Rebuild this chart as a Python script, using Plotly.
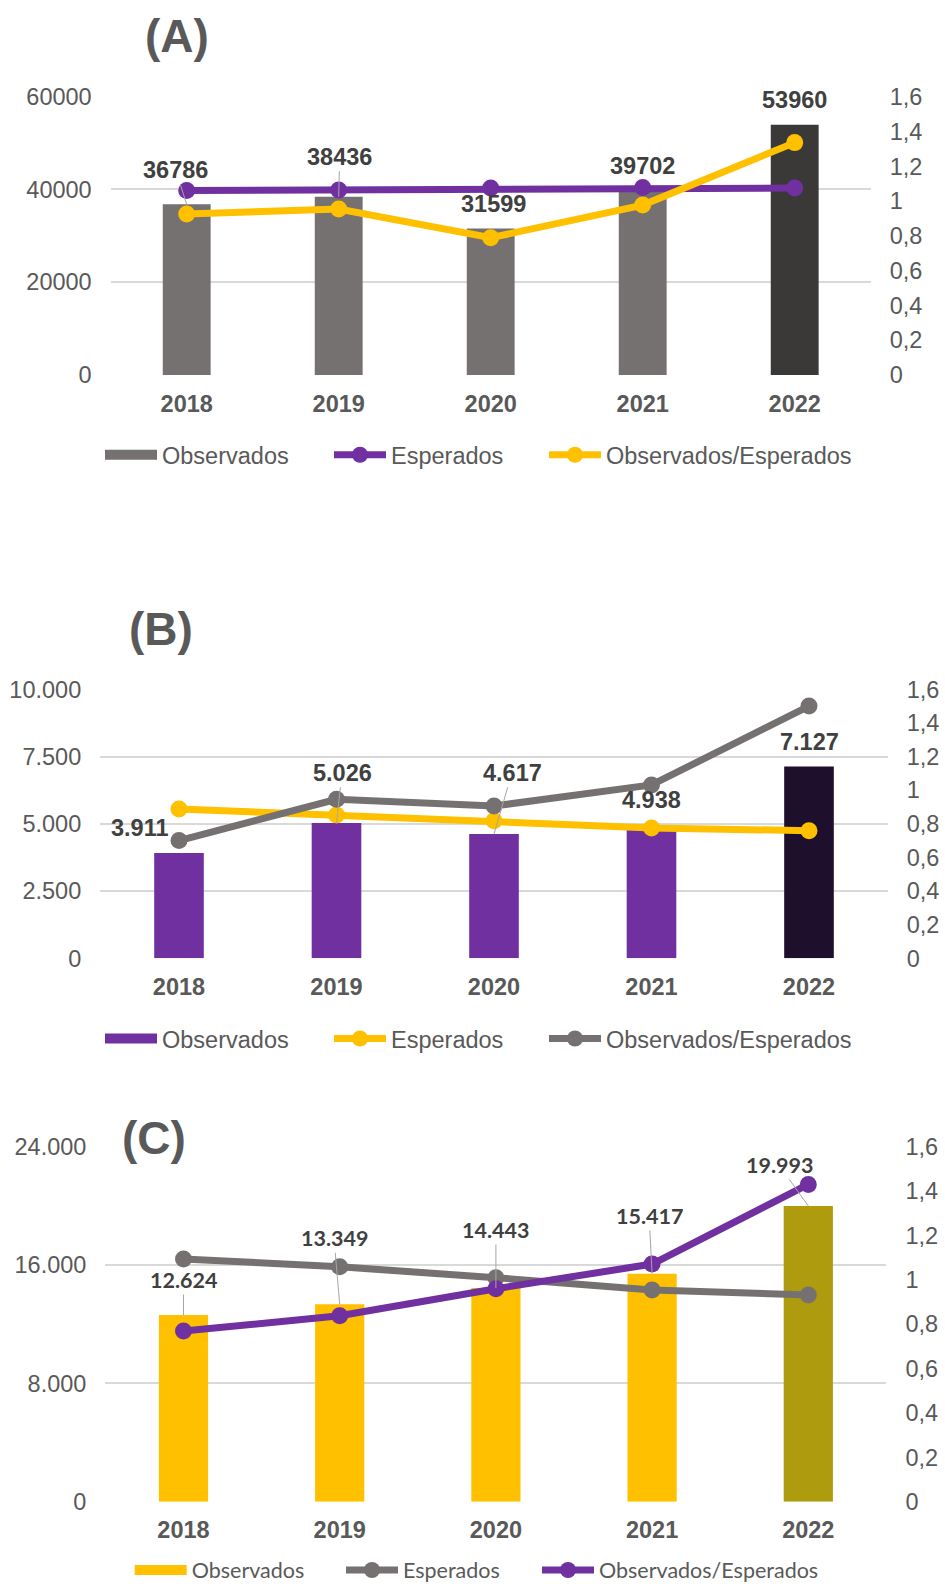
import plotly.graph_objects as go

# ---------------- data ----------------
years = ["2018", "2019", "2020", "2021", "2022"]
legend_names = ["Observados", "Esperados", "Observados/Esperados"]

# Panel A
a_observados = [36786, 38436, 31599, 39702, 53960]
a_esperados = [39800, 39900, 40300, 40400, 40300]
a_ratio = [0.926, 0.954, 0.789, 0.977, 1.336]
a_labels = ["36786", "38436", "31599", "39702", "53960"]
a_left_ticks = [0, 20000, 40000, 60000]
a_left_text = ["0", "20000", "40000", "60000"]

# Panel B
b_observados = [3911, 5026, 4617, 4938, 7127]
b_esperados = [5550, 5330, 5115, 4845, 4745]
b_ratio = [0.700, 0.946, 0.906, 1.031, 1.500]
b_labels = ["3.911", "5.026", "4.617", "4.938", "7.127"]
b_left_ticks = [0, 2500, 5000, 7500, 10000]
b_left_text = ["0", "2.500", "5.000", "7.500", "10.000"]

# Panel C
c_observados = [12624, 13349, 14443, 15417, 19993]
c_esperados = [16410, 15890, 15140, 14310, 13975]
c_ratio = [0.769, 0.838, 0.960, 1.071, 1.430]
c_labels = ["12.624", "13.349", "14.443", "15.417", "19.993"]
c_left_ticks = [0, 8000, 16000, 24000]
c_left_text = ["0", "8.000", "16.000", "24.000"]

right_ticks = [0, 0.2, 0.4, 0.6, 0.8, 1.0, 1.2, 1.4, 1.6]
right_text = ["0", "0,2", "0,4", "0,6", "0,8", "1", "1,2", "1,4", "1,6"]

# ---------------- styling ----------------
W, H = 945, 1584
PURPLE = "#7030A0"
YELLOW = "#FFC000"
GRAY = "#767171"
TXT = "#595959"
LBL = "#404040"
GRID = "#D9D9D9"
ARIAL = "Liberation Sans, Arial, sans-serif"
CALIBRI = "Lato, Carlito, Calibri, sans-serif"


def px_x(p):
    return p / W


def px_y(p):
    return 1 - p / H


panels = [
    dict(tag="(A)", title_xy=(177, 36), obs=a_observados, esp=a_esperados, ratio=a_ratio,
         labels=a_labels, lticks=a_left_ticks, ltext=a_left_text, ymax=60000,
         bar=GRAY, last="#3B3838", esp_col=PURPLE, ratio_col=YELLOW,
         xdom=(110.7, 870.7), ydom=(375.0, 96.7),
         lab_dx=[-11, 1, 3, 0, 0], lab_dy=[-34, -40, -24.5, -25, -24.5],
         lab_arrow=[True, True, False, False, False],
         lab_font=dict(family=ARIAL, size=23.5, color=LBL),
         leg_font=dict(family=ARIAL, size=23.5, color=TXT),
         leg_x=100, leg_y=455, leg_anchor="middle", leg_w=[162, 148, 250]),
    dict(tag="(B)", title_xy=(160.5, 629), obs=b_observados, esp=b_esperados, ratio=b_ratio,
         labels=b_labels, lticks=b_left_ticks, ltext=b_left_text, ymax=10000,
         bar=PURPLE, last="#1E0F2C", esp_col=YELLOW, ratio_col=GRAY,
         xdom=(100.25, 887.75), ydom=(958.3, 689.3),
         lab_dx=[-39, 5.5, 18, 0, 0], lab_dy=[-25, -50.4, -61.4, -25.5, -25],
         lab_arrow=[False, True, True, False, False],
         lab_font=dict(family=ARIAL, size=23.5, color=LBL),
         leg_font=dict(family=ARIAL, size=23.5, color=TXT),
         leg_x=100, leg_y=1038.7, leg_anchor="middle", leg_w=[162, 148, 250]),
    dict(tag="(C)", title_xy=(154, 1138), obs=c_observados, esp=c_esperados, ratio=c_ratio,
         labels=c_labels, lticks=c_left_ticks, ltext=c_left_text, ymax=24000,
         bar=YELLOW, last="#AE9B0E", esp_col=GRAY, ratio_col=PURPLE,
         xdom=(105.4, 886.4), ydom=(1501.7, 1146.7),
         lab_dx=[0, -5.7, 0, -3, -29.3], lab_dy=[-35, -66, -58, -57.7, -41],
         lab_arrow=[True, True, True, True, True],
         lab_font=dict(family=CALIBRI, size=21.5, color=LBL),
         leg_font=dict(family=CALIBRI, size=21.5, color=TXT),
         leg_x=129.7, leg_y=1570, leg_anchor="middle", leg_w=[144.3, 129, 230]),
]

fig = go.Figure()
annotations = []
layout = dict(
    width=W, height=H, autosize=False,
    margin=dict(l=0, r=0, t=0, b=0, pad=0, autoexpand=False),
    paper_bgcolor="white", plot_bgcolor="rgba(0,0,0,0)",
    showlegend=True,
)

tick_font = dict(family=ARIAL, size=23.5, color=TXT)
xtick_font = dict(family=ARIAL, size=23.5, color=TXT, weight="bold")

for i, p in enumerate(panels):
    n = i + 1
    xa = "x" if n == 1 else f"x{n}"
    ya = "y" if n == 1 else f"y{2 * n - 1}"
    yb = f"y{2 * n}"
    leg = "legend" if n == 1 else f"legend{n}"
    xkey = "xaxis" if n == 1 else f"xaxis{n}"
    yakey = "yaxis" if n == 1 else f"yaxis{2 * n - 1}"
    ybkey = f"yaxis{2 * n}"

    colors = [p["bar"]] * (len(years) - 1) + [p["last"]]

    fig.add_trace(go.Bar(x=years, y=p["obs"], marker=dict(color=colors, line=dict(width=0)),
                         width=0.315, xaxis=xa, yaxis=ya, showlegend=False,
                         name=legend_names[0], legend=leg))
    # legend-only entry giving the wide box symbol of the bars
    fig.add_trace(go.Scatter(x=[None], y=[None], mode="lines", name=legend_names[0],
                             line=dict(color=p["bar"], width=12), xaxis=xa, yaxis=ya,
                             legend=leg, legendwidth=p["leg_w"][0], hoverinfo="skip"))
    fig.add_trace(go.Scatter(x=years, y=p["esp"], mode="lines+markers", name=legend_names[1],
                             line=dict(color=p["esp_col"], width=7),
                             marker=dict(color=p["esp_col"], size=17),
                             xaxis=xa, yaxis=ya, legend=leg, legendwidth=p["leg_w"][1]))
    fig.add_trace(go.Scatter(x=years, y=p["ratio"], mode="lines+markers", name=legend_names[2],
                             line=dict(color=p["ratio_col"], width=7),
                             marker=dict(color=p["ratio_col"], size=17),
                             xaxis=xa, yaxis=yb, legend=leg, legendwidth=p["leg_w"][2]))

    layout[xkey] = dict(domain=[px_x(p["xdom"][0]), px_x(p["xdom"][1])], anchor=ya,
                        type="category", range=[-0.5, 4.5], showgrid=False, showline=False,
                        zeroline=False, ticks="", tickfont=xtick_font, ticklabelstandoff=12,
                        fixedrange=True, automargin=False)
    layout[yakey] = dict(domain=[px_y(p["ydom"][0]), px_y(p["ydom"][1])], anchor=xa,
                         range=[0, p["ymax"]], tickmode="array", tickvals=p["lticks"],
                         ticktext=p["ltext"], showgrid=True, gridcolor=GRID, gridwidth=2,
                         zeroline=False, showline=False, ticks="", tickfont=tick_font,
                         ticklabelstandoff=18, fixedrange=True, automargin=False)
    layout[ybkey] = dict(overlaying=ya, anchor=xa, side="right", range=[0, 1.6],
                         tickmode="array", tickvals=right_ticks, ticktext=right_text,
                         showgrid=False, zeroline=False, showline=False, ticks="",
                         tickfont=tick_font, ticklabelstandoff=18, fixedrange=True,
                         automargin=False)
    layout[leg] = dict(orientation="h", x=px_x(p["leg_x"]), xanchor="left",
                       y=px_y(p["leg_y"]), yanchor=p["leg_anchor"], font=p["leg_font"],
                       bgcolor="rgba(0,0,0,0)", borderwidth=0, itemwidth=52,
                       traceorder="normal", itemclick=False, itemdoubleclick=False)

    # panel tag
    annotations.append(dict(text="<b>" + p["tag"] + "</b>", xref="paper", yref="paper",
                            x=px_x(p["title_xy"][0]), y=px_y(p["title_xy"][1]),
                            xanchor="center", yanchor="middle", showarrow=False,
                            font=dict(family=ARIAL, size=46, color=TXT)))
    # data labels (anchored on the bar tops through the axes)
    for j in range(len(years)):
        base = dict(text="<b>" + p["labels"][j] + "</b>", x=j, y=p["obs"][j],
                    xref=xa, yref=ya, font=p["lab_font"])
        if p["lab_arrow"][j]:
            base.update(showarrow=True, arrowhead=0, arrowwidth=1, arrowcolor="#A6A6A6",
                        axref="pixel", ayref="pixel",
                        ax=p["lab_dx"][j], ay=p["lab_dy"][j], standoff=0)
        else:
            base.update(showarrow=False, xanchor="center", yanchor="middle",
                        xshift=p["lab_dx"][j], yshift=-p["lab_dy"][j])
        annotations.append(base)

layout["annotations"] = annotations
fig.update_layout(**layout)

fig.write_html("out.html", config={"displayModeBar": False},
               post_script="document.body.style.margin='0';")
